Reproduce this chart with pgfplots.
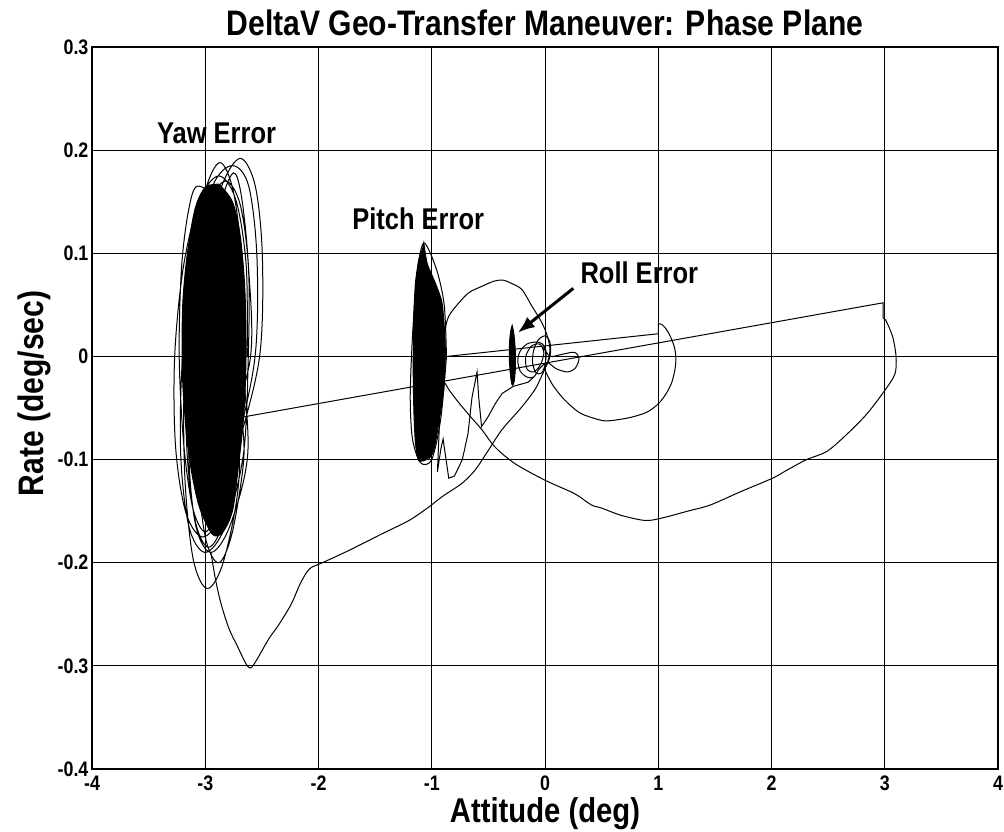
\documentclass[border=0pt]{standalone}
\usepackage{pgfplots}
\pgfplotsset{compat=1.18}
\usepackage{fontspec}
\setmainfont{Liberation Sans}[FakeStretch=0.85]
\usetikzlibrary{arrows.meta}

\begin{document}
\begin{tikzpicture}
\useasboundingbox (-46pt,-31pt) rectangle (456pt,384.5pt);
\begin{axis}[
  at={(0,0)}, anchor=south west,
  scale only axis, width=453pt, height=361pt,
  xmin=-4, xmax=4, ymin=-0.4, ymax=0.3,
  xtick={-4,-3,-2,-1,0,1,2,3,4},
  ytick={-0.4,-0.3,-0.2,-0.1,0,0.1,0.2,0.3},
  yticklabels={-0.4,-0.3,-0.2,-0.1,0,0.1,0.2,0.3},
  grid=major,
  major grid style={black, line width=0.45pt},
  axis line style={black, line width=0.8pt},
  tick style={draw=none},
  tick label style={font=\fontsize{10.5}{12}\selectfont\bfseries},
  xticklabel style={inner sep=3.2pt},
  yticklabel style={inner sep=1.6pt},
  /pgf/number format/assume math mode=true,
  title={DeltaV Geo-Transfer Maneuver: Phase Plane},
  title style={font=\fontsize{17.7}{20}\selectfont\bfseries, anchor=base, at={(axis description cs:0.5,1)}},
  xlabel={Attitude (deg)},
  xlabel style={font=\fontsize{17.2}{20}\selectfont\bfseries, anchor=base, at={(axis description cs:0.5,0)}, yshift=-26.6pt},
  ylabel={Rate (deg/sec)},
  ylabel style={font=\fontsize{17.7}{20}\selectfont\bfseries, anchor=base, at={(axis description cs:-0.054,0.52)}},
  every axis plot/.append style={black, line width=0.5pt},
  clip=true,
]

% ---- Yaw error: dense core
\addplot[fill=black, draw=black, smooth, tension=0.5] coordinates {
(-2.88,0.167) (-2.76,0.150) (-2.69,0.116) (-2.65,0.064) (-2.64,0.0) (-2.66,-0.057)
(-2.71,-0.109) (-2.76,-0.150) (-2.85,-0.171) (-2.94,-0.172) (-3.06,-0.143) (-3.15,-0.091)
(-3.20,-0.022) (-3.20,0.047) (-3.16,0.098) (-3.09,0.143) (-3.0,0.164) (-2.88,0.167)
} -- cycle;

% ---- Yaw error: outer loops
\addplot[smooth, tension=0.55] coordinates {
(-2.63,0) (-2.638,0.0875) (-2.729,0.1515) (-2.88,0.175) (-3.049,0.1515) (-3.192,0.0875)
(-3.27,0) (-3.262,-0.0875) (-3.171,-0.1515) (-3.02,-0.175) (-2.851,-0.1515) (-2.708,-0.0875)
(-2.52,0) (-2.495,0.095) (-2.557,0.1645) (-2.69,0.192) (-2.857,0.1645) (-3.015,0.095)
(-3.12,0) (-3.145,-0.095) (-3.083,-0.1645) (-2.95,-0.19) (-2.783,-0.1645) (-2.625,-0.095)
(-2.67,0) (-2.679,0.0925) (-2.752,0.16) (-2.87,0.188) (-3.002,0.16) (-3.112,0.0925)
(-3.17,0) (-3.161,-0.0925) (-3.088,-0.16) (-2.97,-0.185) (-2.838,-0.16) (-2.728,-0.0925)
(-2.56,0) (-2.543,0.095) (-2.616,0.165) (-2.76,0.185) (-2.936,0.165) (-3.097,0.095)
(-3.2,0) (-3.217,-0.095) (-3.144,-0.165) (-3.0,-0.19) (-2.824,-0.165) (-2.663,-0.095)
(-2.62,0) (-2.618,0.085) (-2.691,0.147) (-2.82,0.17) (-2.971,0.147) (-3.10,0.085)
(-3.18,0) (-3.183,-0.11) (-3.109,-0.195) (-2.98,-0.225) (-2.829,-0.195) (-2.698,-0.11)
(-2.78,0) (-2.81,0.085) (-2.89,0.147) (-3.07,0.165) (-3.15,0.14) (-3.21,0.085)
(-3.23,0) (-3.19,-0.085) (-3.11,-0.147) (-3.0,-0.17) (-2.89,-0.147) (-2.81,-0.085)
(-2.6,0) (-2.62,0.09) (-2.68,0.155) (-2.75,0.178) (-2.86,0.15) (-2.98,0.09)
(-3.05,0) (-3.07,-0.1) (-3.0,-0.175) (-2.88,-0.2) (-2.76,-0.17) (-2.66,-0.1) (-2.68,-0.059)
};

% ---- long line from yaw to the right, and return arc
\addplot[sharp plot] coordinates {(-2.68,-0.059) (2.985,0.052) (2.985,0.037)};
\addplot[smooth, tension=0.5] coordinates {
(2.985,0.037) (3.01,0.035) (3.07,0.019) (3.10,0) (3.09,-0.017) (3.0,-0.033)
(2.84,-0.056) (2.66,-0.076) (2.49,-0.092) (2.31,-0.1) (2.14,-0.11) (2.01,-0.118)
(1.73,-0.131) (1.46,-0.144) (1.26,-0.150) (1.02,-0.157) (0.88,-0.159) (0.67,-0.154)
(0.5,-0.147) (0.41,-0.144) (0.26,-0.133) (0.0,-0.12) (-0.264,-0.104) (-0.44,-0.088)
(-0.557,-0.071) (-0.645,-0.06) (-0.76,-0.045) (-0.85,-0.032) (-0.88,-0.026)
};

% ---- Pitch error: dense core
\addplot[fill=black, draw=black, smooth, tension=0.4] coordinates {
(-1.07,0.11) (-1.04,0.09) (-0.968,0.071) (-0.909,0.052) (-0.886,0.023) (-0.88,0)
(-0.894,-0.032) (-0.938,-0.065) (-0.982,-0.091) (-1.026,-0.099) (-1.114,-0.101)
(-1.144,-0.084) (-1.158,-0.052) (-1.164,-0.01) (-1.158,0.039) (-1.144,0.071)
(-1.114,0.094) (-1.08,0.105) (-1.07,0.11)
} -- cycle;
\addplot[smooth, tension=0.5] coordinates {
(-0.87,0.0) (-0.89,0.05) (-0.96,0.085) (-1.07,0.11) (-1.13,0.08) (-1.17,0.02)
(-1.19,-0.04) (-1.17,-0.08) (-1.1,-0.103) (-1.0,-0.1) (-0.92,-0.06) (-0.87,0.0)
};

% ---- line from pitch to (1, 0.02) and right loop
\addplot[sharp plot] coordinates {(-0.868,0.0) (1.0,0.022) (1.0,0.032) (1.03,0.031)};
\addplot[smooth, tension=0.5] coordinates {
(1.03,0.031) (1.06,0.028) (1.10,0.021) (1.14,0.01) (1.155,0.0) (1.15,-0.011)
(1.12,-0.025) (1.07,-0.036) (1.0,-0.046) (0.9,-0.054) (0.76,-0.059) (0.6,-0.062)
(0.5,-0.062) (0.33,-0.056) (0.24,-0.049) (0.155,-0.040) (0.07,-0.028) (0.02,-0.018)
(-0.006,-0.012)
};

% ---- small loops near origin
\addplot[smooth, tension=0.5] coordinates {
(-0.006,-0.012) (0.03,-0.005) (0.05,0.005) (0.04,0.015) (0.0,0.02) (-0.06,0.016)
(-0.1,0.006) (-0.11,-0.006) (-0.08,-0.016) (-0.03,-0.016) (0.0,-0.008) (0.01,0.004)
(-0.02,0.012) (-0.08,0.014) (-0.16,0.012) (-0.22,0.005) (-0.24,-0.004) (-0.22,-0.014)
(-0.16,-0.02) (-0.1,-0.02) (-0.05,-0.012) (0.02,-0.006) (0.1,-0.012) (0.2,-0.015)
(0.27,-0.011) (0.3,-0.002) (0.26,0.004) (0.15,0.002) (0.05,0.0) (0.0,0.006)
(-0.05,0.012) (-0.12,0.01) (-0.17,0.0) (-0.16,-0.012) (-0.1,-0.015) (-0.04,-0.008)
(-0.01,0.003) (-0.03,0.01)
};

% ---- big upper loop from pitch, returning down-left to the yaw bottom tail
\addplot[smooth, tension=0.5] coordinates {
(-0.88,0.005) (-0.885,0.023) (-0.85,0.039) (-0.76,0.052) (-0.67,0.062) (-0.557,0.068)
(-0.45,0.073) (-0.37,0.074) (-0.30,0.071) (-0.205,0.065) (-0.117,0.049) (-0.044,0.036)
(0.0,0.026) (0.03,0.016) (0.044,0.0065) (0.03,-0.003) (0.0,-0.012) (-0.03,-0.019)
(-0.088,-0.032) (-0.205,-0.049) (-0.38,-0.071) (-0.5,-0.091) (-0.616,-0.110)
(-0.733,-0.123) (-0.909,-0.136) (-1.026,-0.146) (-1.2,-0.159) (-1.44,-0.172)
(-1.73,-0.188) (-1.965,-0.200) (-2.08,-0.206) (-2.16,-0.22) (-2.24,-0.24)
(-2.35,-0.26) (-2.44,-0.274) (-2.55,-0.295) (-2.6,-0.302) (-2.64,-0.298)
(-2.72,-0.28) (-2.79,-0.264) (-2.86,-0.24) (-2.91,-0.216) (-2.95,-0.19)
};

% ---- squiggles below the pitch cluster
\addplot[sharp plot] coordinates {
(-0.93,-0.06) (-0.95,-0.112) (-0.92,-0.09) (-0.9,-0.08) (-0.85,-0.118) (-0.80,-0.116)
(-0.73,-0.10) (-0.68,-0.075) (-0.645,-0.04) (-0.6,-0.015) (-0.585,-0.04) (-0.56,-0.068)
(-0.5,-0.058) (-0.44,-0.046) (-0.38,-0.036) (-0.28,-0.029) (-0.15,-0.025) (-0.1,-0.02)
};

% ---- Roll error blob
\addplot[fill=black, draw=black, smooth, tension=0.5] coordinates {
(-0.29,0.03) (-0.275,0.022) (-0.262,0.005) (-0.262,-0.012) (-0.272,-0.024)
(-0.288,-0.028) (-0.303,-0.02) (-0.315,-0.002) (-0.312,0.015) (-0.302,0.025) (-0.29,0.03)
} -- cycle;

% ---- annotations
\draw[line width=1.5pt, -{Latex[length=8.5pt,width=6.5pt]}] (axis cs:0.25,0.066) -- (axis cs:-0.24,0.023);
\node[anchor=base, font=\fontsize{15}{17}\selectfont\bfseries] at (axis cs:-2.9,0.2066) {Yaw Error};
\node[anchor=base, font=\fontsize{15}{17}\selectfont\bfseries] at (axis cs:-1.12,0.1226) {Pitch Error};
\node[anchor=base west, inner sep=0pt, font=\fontsize{15}{17}\selectfont\bfseries] at (axis cs:0.31,0.0705) {Roll Error};
\end{axis}
\end{tikzpicture}
\end{document}
